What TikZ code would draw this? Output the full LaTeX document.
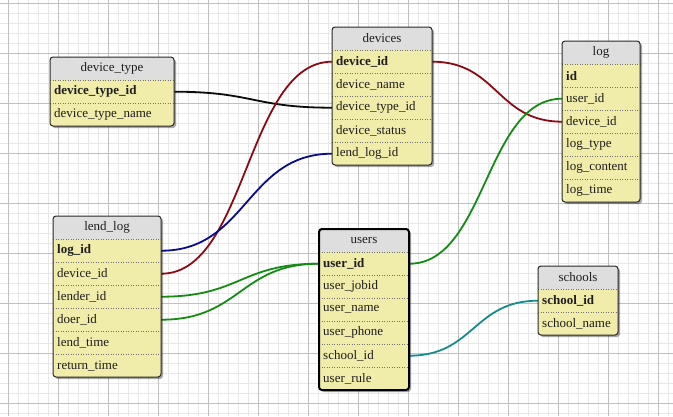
\documentclass[tikz,border=0pt]{standalone}
\usepackage{fontspec}
\setmainfont{Liberation Serif}
\usetikzlibrary{shadows,calc}
\pgfdeclarelayer{gridl}
\pgfdeclarelayer{links}
\pgfsetlayers{gridl,links,main}
\definecolor{rowy}{RGB}{240,236,170}
\definecolor{headg}{RGB}{222,222,222}
\definecolor{minorg}{RGB}{232,232,232}
\definecolor{majorg}{RGB}{192,192,192}
\definecolor{txt}{RGB}{30,30,30}
\definecolor{bord}{RGB}{40,40,40}
\definecolor{cred}{RGB}{140,10,20}
\definecolor{cblue}{RGB}{10,10,140}
\definecolor{cgreen}{RGB}{20,140,20}
\definecolor{cteal}{RGB}{20,140,140}
\definecolor{cblack}{RGB}{10,10,10}
\tikzset{
  minorline/.style={draw=minorg, line width=0.6pt},
  majorline/.style={draw=majorg, line width=0.8pt},
  rowfill/.style={fill=rowy},
  headfill/.style={fill=headg},
  tshadow/.style={drop shadow={shadow xshift=2pt, shadow yshift=-2pt, opacity=0.35, fill=black}},
  tborder/.style={draw=bord, line width=1pt},
  sepline/.style={draw=black!55, line width=0.6pt, dash pattern=on 1pt off 1.5pt},
  headtext/.style={text=txt, inner sep=0pt},
  rowcell/.style={text=txt, inner xsep=4pt, inner ysep=0pt, minimum height=23pt, align=left},
  link/.style={line width=1.8pt},
}
\newcommand\ertable[8][]{%
  \pgfmathsetmacro\erbot{#4+23*(#6+1)}%
  \pgfmathsetmacro\erright{#3+#5}%
  \pgfmathsetmacro\erhb{#4+23}%
  \pgfmathsetmacro\erw{#5-8}%
  \fill[rowfill, tshadow, rounded corners=3pt] (#3,#4) rectangle (\erright,\erbot);
  \fill[headfill, rounded corners=3pt] (#3,#4) rectangle (\erright,\erhb);
  \fill[headfill] (#3,{#4+10}) rectangle (\erright,\erhb);
  \node[headtext] (#2-h) at ({#3+#5/2},{#4+11.5}) {#7};
  \foreach \t [count=\i] in {#8} {
    \pgfmathsetmacro\ery{#4+23*\i}
    \draw[sepline] (#3,\ery) -- (\erright,\ery);
    \node[rowcell, text width=\erw pt, anchor=north west] (#2-\i) at (#3,\ery) {\ifnum\i=1 \bfseries\fi\t};
  }
  \draw[tborder, rounded corners=3pt, #1] (#3,#4) rectangle (\erright,\erbot);
}
\newcommand\erlink[3]{%
  \draw[link,#1] let \p1=(#2), \p2=(#3) in
    (\p1) .. controls ({(\x1+\x2)/2},\y1) and ({(\x1+\x2)/2},\y2) .. (\p2);
}
\begin{document}
\begin{tikzpicture}[x=1pt,y=-1pt, font=\fontsize{13}{15}\selectfont]
\useasboundingbox (0,0) rectangle (673,416);
\begin{pgfonlayer}{gridl}
  \fill[white] (0,0) rectangle (673,416);
  \foreach \x in {-2,8,...,672} \draw[minorline] (\x,0) -- (\x,416);
  \foreach \y in {3,13,...,413} \draw[minorline] (0,\y) -- (673,\y);
  \foreach \x in {8,58,...,658} \draw[majorline] (\x,0) -- (\x,416);
  \foreach \y in {3,53,...,403} \draw[majorline] (0,\y) -- (673,\y);
\end{pgfonlayer}

\ertable{dt}{50}{57}{124}{2}{device\_type}{device\_type\_id,device\_type\_name}
\ertable{dev}{332}{27}{100}{5}{devices}{device\_id,device\_name,device\_type\_id,device\_status,lend\_log\_id}
\ertable{log}{562}{41}{78}{6}{log}{id,user\_id,device\_id,log\_type,log\_content,log\_time}
\ertable{ll}{53}{216}{108}{6}{lend\_log}{log\_id,device\_id,lender\_id,doer\_id,lend\_time,return\_time}
\ertable[line width=2pt, draw=black]{us}{319}{229}{90}{6}{users}{user\_id,user\_jobid,user\_name,user\_phone,school\_id,user\_rule}
\ertable{sc}{538}{266}{80}{2}{schools}{school\_id,school\_name}

\begin{pgfonlayer}{links}
  \erlink{cblack}{dt-1.east}{dev-3.west}
  \erlink{cred}{dev-1.west}{ll-2.east}
  \erlink{cred}{dev-1.east}{log-3.west}
  \erlink{cblue}{dev-5.west}{ll-1.east}
  \erlink{cgreen}{us-1.west}{ll-3.east}
  \erlink{cgreen}{us-1.west}{ll-4.east}
  \erlink{cgreen}{us-1.east}{log-2.west}
  \erlink{cteal}{us-5.east}{sc-1.west}
\end{pgfonlayer}
\end{tikzpicture}
\end{document}
